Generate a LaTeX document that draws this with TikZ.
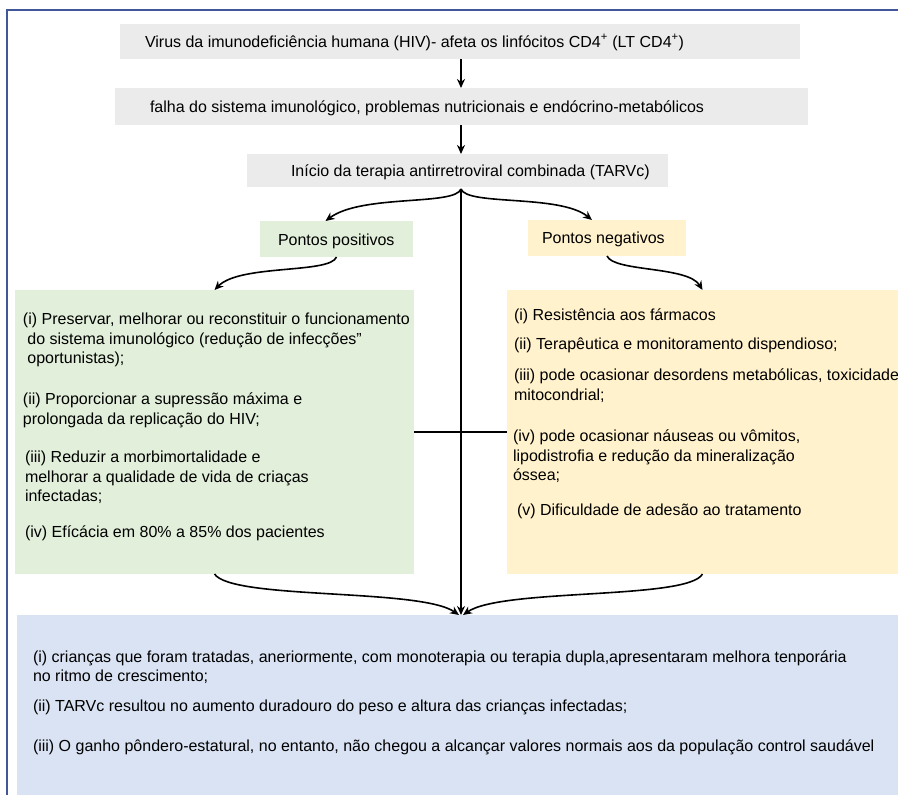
\documentclass[tikz,border=0pt]{standalone}
\usepackage{fontspec}
\setmainfont{Liberation Sans}
\usetikzlibrary{arrows.meta,calc}
\definecolor{graybox}{HTML}{EBEBEB}
\definecolor{greenbox}{HTML}{E2EFDA}
\definecolor{yellowbox}{HTML}{FFF2CC}
\definecolor{bluebox}{HTML}{DAE3F3}
\definecolor{framec}{HTML}{41579A}
\begin{document}
\begin{tikzpicture}[x=1pt,y=-1pt,
  box/.style={draw=none,inner sep=0pt,outer sep=0pt,anchor=north west},
  txt/.style={anchor=base west,inner sep=0pt,outer sep=0pt,align=left,font=\fontsize{16}{19.5}\selectfont},
  arr/.style={line width=1.6pt,-{Stealth[length=9pt,width=8pt]}},
  link/.style={line width=1.6pt},
  frameline/.style={draw=framec,line width=1.6pt}]

\useasboundingbox (0,0) rectangle (898,795);

% frame
\draw[frameline] (7,795) -- (7,10) -- (898,10);

% boxes
\node[box,fill=graybox,minimum width=680pt,minimum height=35pt] (b1) at (120,24) {};
\node[box,fill=graybox,minimum width=693pt,minimum height=37pt] (b2) at (115,88) {};
\node[box,fill=graybox,minimum width=421pt,minimum height=33pt] (b3) at (247,154) {};
\node[box,fill=greenbox,minimum width=153pt,minimum height=36pt] (pp) at (260,221) {};
\node[box,fill=yellowbox,minimum width=158pt,minimum height=36pt] (pn) at (528,220) {};
\node[box,fill=greenbox,minimum width=399pt,minimum height=284pt] (g) at (15,290) {};
\node[box,fill=yellowbox,minimum width=391pt,minimum height=284pt] (yb) at (507,290) {};
\node[box,fill=bluebox,minimum width=881pt,minimum height=180pt] (bl) at (17,615) {};

% texts (anchor = baseline of the last line)
\node[txt] (t1) at (145,47) {Virus da imunodeficiência humana (HIV)- afeta os linfócitos CD4\textsuperscript{+} (LT CD4\textsuperscript{+})};
\node[txt] (t2) at (150,112) {falha do sistema imunológico, problemas nutricionais e endócrino-metabólicos};
\node[txt] (t3) at (291,176) {Início da terapia antirretroviral combinada (TARVc)};
\node[txt] (tpp) at (278,245) {Pontos positivos};
\node[txt] (tpn) at (542,243) {Pontos negativos};

\node[txt] (g1) at (23,363.5) {(i) Preservar, melhorar ou reconstituir o funcionamento\\\ do sistema imunológico (redução de infecções”\\\ oportunistas);};
\node[txt] (g2) at (23,424) {(ii) Proporcionar a supressão máxima e\\prolongada da replicação do HIV;};
\node[txt] (g3) at (25,501.5) {(iii) Reduzir a morbimortalidade e\\melhorar a qualidade de vida de criaças\\infectadas;};
\node[txt] (g4) at (25,537.5) {(iv) Efícácia em 80\% a 85\% dos pacientes};

\node[txt] (y1) at (514,320.5) {(i) Resistência aos fármacos};
\node[txt] (y2) at (514,349.5) {(ii) Terapêutica e monitoramento dispendioso;};
\node[txt] (y3) at (514,400) {(iii) pode ocasionar desordens metabólicas, toxicidade\\mitocondrial;};
\node[txt] (y4) at (513,480.5) {(iv) pode ocasionar náuseas ou vômitos,\\lipodistrofia e redução da mineralização\\óssea;};
\node[txt] (y5) at (517,515.5) {(v) Dificuldade de adesão ao tratamento};

\node[txt] (c1) at (33,681.5) {(i) crianças que foram tratadas, aneriormente, com monoterapia ou terapia dupla,apresentaram melhora tenporária\\no ritmo de crescimento;};
\node[txt] (c2) at (33,711.5) {(ii) TARVc resultou no aumento duradouro do peso e altura das crianças infectadas;};
\node[txt] (c3) at (33,751.5) {(iii) O ganho pôndero-estatural, no entanto, não chegou a alcançar valores normais aos da população control saudável};

% connectors
\coordinate (top) at (461,189);
\coordinate (tip) at (bl.north -| top);
\draw[arr] (b1.south -| top) -- (b2.north -| top);
\draw[arr] (b2.south -| top) -- (b3.north -| top);
\draw[arr] (top) -- (tip);
\draw[arr] (top) .. controls (455,206) and (362,194) .. ($(pp.north)+(-11,0)$);
\draw[arr] (top) .. controls (467,206) and (560,194) .. ($(pn.north)+(-15,0)$);
\draw[arr] (pp.south) .. controls (330,274) and (240,264) .. (g.north);
\draw[arr] (pn.south) .. controls (614,272) and (688,266) .. (yb.north);
\draw[arr] (g.south) .. controls (232,600) and (420,588) .. ($(tip)+(-2,0)$);
\draw[arr] (yb.south) .. controls (688,600) and (502,588) .. ($(tip)+(2,0)$);
\draw[link] (g.east) -- (yb.west);
\end{tikzpicture}
\end{document}
